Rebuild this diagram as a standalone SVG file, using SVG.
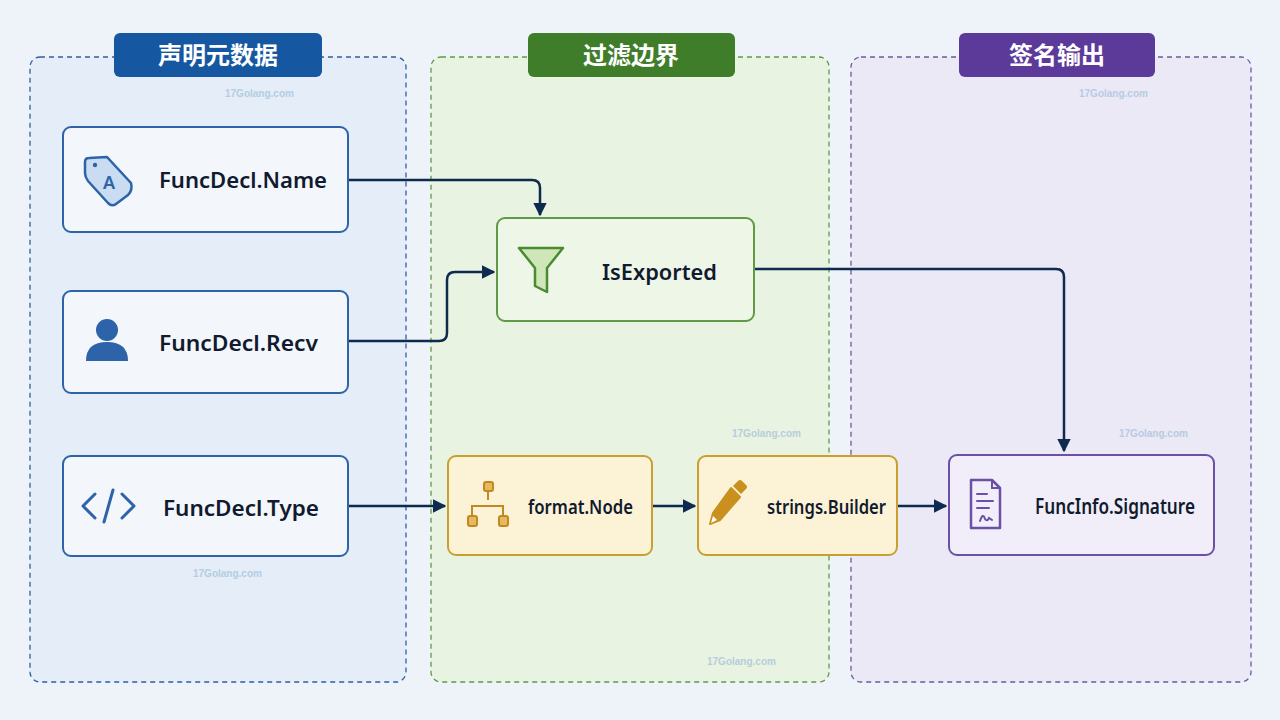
<svg xmlns="http://www.w3.org/2000/svg" width="1280" height="720" viewBox="0 0 1280 720">
<style>
.t{font-family:"Noto Sans","Liberation Sans",sans-serif;font-weight:600;fill:#111a2e}
.h{font-family:"Noto Sans CJK SC","Noto Sans",sans-serif;font-weight:700;fill:#fff;font-size:24px}
.wm{font-family:"Liberation Sans",sans-serif;font-weight:700;font-size:10px;fill:#9fc0d8;opacity:.7}
.c{fill:none;stroke:#0f2a4f;stroke-width:2.5;marker-end:url(#a)}
</style>
<defs>
<marker id="a" viewBox="0 0 10 10" refX="9" refY="5" markerWidth="5.5" markerHeight="5.5" orient="auto"><path d="M0,0L10,5L0,10z" fill="#0f2a4f"/></marker>
</defs>
<rect width="1280" height="720" fill="#eef3fa"/>
<g id="panel-left"><rect x="30" y="57" width="376" height="625" rx="10" fill="#e4edf8" stroke="#2f5f9e" stroke-dasharray="5,4" stroke-width="1.3"/>
<rect x="114" y="33" width="208" height="44" rx="6" fill="#1557a0"/><text x="218" y="64" text-anchor="middle" class="h">声明元数据</text></g>
<g id="panel-mid"><rect x="431" y="57" width="398" height="625" rx="10" fill="#e9f3e2" stroke="#5f9a45" stroke-dasharray="5,4" stroke-width="1.3"/>
<rect x="528" y="33" width="207" height="44" rx="6" fill="#3f7d2a"/><text x="631" y="64" text-anchor="middle" class="h">过滤边界</text></g>
<g id="panel-right"><rect x="851" y="57" width="400" height="625" rx="10" fill="#ece9f7" stroke="#6b5a9e" stroke-dasharray="5,4" stroke-width="1.3"/>
<rect x="959" y="33" width="196" height="44" rx="6" fill="#5b3a9a"/><text x="1057" y="64" text-anchor="middle" class="h">签名输出</text></g>
<g class="wm"><text x="225" y="97">17Golang.com</text><text x="145" y="312">17Golang.com</text><text x="193" y="577">17Golang.com</text><text x="732" y="437">17Golang.com</text><text x="707" y="665">17Golang.com</text><text x="1079" y="97">17Golang.com</text><text x="1119" y="437">17Golang.com</text><text x="1040" y="542">17Golang.com</text></g>
<g id="connectors">
<path class="c" d="M348,180H532Q540,180 540,188V215"/>
<path class="c" d="M348,341H439Q447,341 447,333V280Q447,272 455,272H494"/>
<path class="c" d="M754,269H1056Q1064,269 1064,277V451"/>
<path class="c" d="M348,506H445"/>
<path class="c" d="M652,506H695"/>
<path class="c" d="M897,506H946"/>
</g>
<g id="n-name"><rect x="63" y="127" width="285" height="105" rx="8" fill="#f3f7fc" stroke="#2d63a8" stroke-width="2"/>
<path d="M89,158L107,157L131,183Q133,190 128,195L116,204Q112,207 108,203L88,181Q85,177 85,173L85,162Q85,158 89,158Z" fill="#c9dcf2" stroke="#2d63a8" stroke-width="2.5" stroke-linejoin="round"/><circle cx="95" cy="165" r="2.2" fill="#2d63a8"/><text x="109" y="189" font-family="Noto Sans,sans-serif" font-size="18" font-weight="600" fill="#2d63a8" text-anchor="middle">A</text>
<text x="159" y="188" class="t" font-size="22" textLength="168" lengthAdjust="spacingAndGlyphs">FuncDecl.Name</text></g>
<g id="n-recv"><rect x="63" y="291" width="285" height="102" rx="8" fill="#f3f7fc" stroke="#2d63a8" stroke-width="2"/>
<circle cx="107" cy="330" r="11" fill="#2d63a8"/><path d="M86,361Q86,342 107,342Q128,342 128,361Z" fill="#2d63a8"/>
<text x="159" y="351" class="t" font-size="22" textLength="159" lengthAdjust="spacingAndGlyphs">FuncDecl.Recv</text></g>
<g id="n-type"><rect x="63" y="456" width="285" height="100" rx="8" fill="#f3f7fc" stroke="#2d63a8" stroke-width="2"/>
<path d="M95,494L83,506L95,518M122,494L134,506L122,518M113,490L104,522" fill="none" stroke="#2d63a8" stroke-width="3" stroke-linecap="round" stroke-linejoin="round"/>
<text x="163" y="516" class="t" font-size="22" textLength="156" lengthAdjust="spacingAndGlyphs">FuncDecl.Type</text></g>
<g id="n-isexported"><rect x="497" y="218" width="257" height="103" rx="8" fill="#eef6e8" stroke="#5f9a45" stroke-width="2"/>
<path d="M519,248H563L547,268V292L535,286V268Z" fill="#cfe6b8" stroke="#4a8a30" stroke-width="2.5" stroke-linejoin="round"/>
<text x="602" y="280" class="t" font-size="22" textLength="115" lengthAdjust="spacingAndGlyphs">IsExported</text></g>
<g id="n-format"><rect x="448" y="456" width="204" height="99" rx="8" fill="#fcf3d6" stroke="#c9a030" stroke-width="2"/>
<g fill="#e8b860" stroke="#c08a20" stroke-width="2"><rect x="484" y="482" width="9" height="9" rx="2"/><rect x="468" y="516" width="9" height="10" rx="2"/><rect x="499" y="516" width="9" height="10" rx="2"/></g>
<path d="M488,491V500M472,516V506H503V516" fill="none" stroke="#c08a20" stroke-width="2"/>
<text x="528" y="514" class="t" font-size="20" textLength="105" lengthAdjust="spacingAndGlyphs">format.Node</text></g>
<g id="n-builder"><rect x="698" y="456" width="199" height="99" rx="8" fill="#fcf3d6" stroke="#c9a030" stroke-width="2"/>
<path d="M731,488L740,497L720,520L710,524L713,513Z" fill="#c9901e" stroke="#c9901e" stroke-width="2" stroke-linejoin="round"/><path d="M733,486L738,481Q740,479 742,481L746,485Q748,487 746,489L741,494Z" fill="#c9901e"/><path d="M711,523L713,516L717,520Z" fill="#fff"/>
<text x="767" y="514" class="t" font-size="20" textLength="119" lengthAdjust="spacingAndGlyphs">strings.Builder</text></g>
<g id="n-signature"><rect x="949" y="455" width="265" height="100" rx="8" fill="#f1eefa" stroke="#6b4fa8" stroke-width="2"/>
<path d="M971,480H992L1000,488V528H971Z" fill="#f1eefa" stroke="#6b4fa8" stroke-width="2.5" stroke-linejoin="round"/><path d="M992,480V488H1000" fill="none" stroke="#6b4fa8" stroke-width="2"/>
<path d="M977,494H987M977,501H993M977,508H989M980,521Q983,512 985,519Q987,522 989,518L992,520" fill="none" stroke="#6b4fa8" stroke-width="2" stroke-linecap="round"/>
<text x="1035" y="514" class="t" font-size="21" textLength="160" lengthAdjust="spacingAndGlyphs">FuncInfo.Signature</text></g>
</svg>
